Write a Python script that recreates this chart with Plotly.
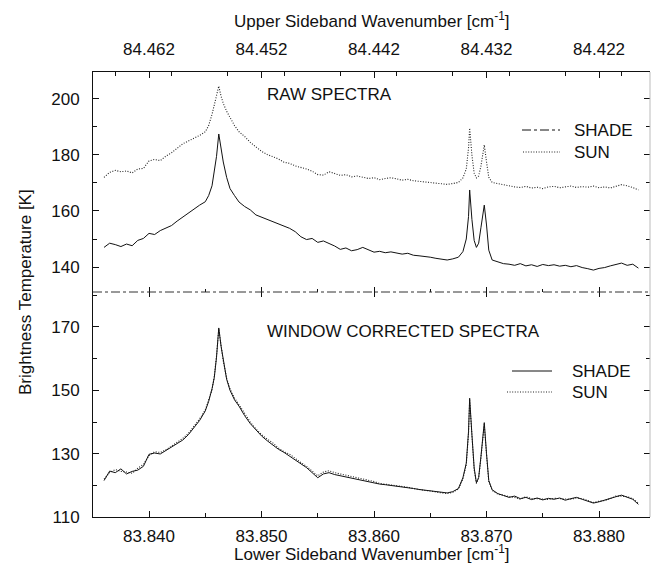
import plotly.graph_objects as go

# ---------------- data ----------------
# lower-sideband wavenumber sample positions [cm^-1]
wavenumber = (
    [83.8360, 83.8365, 83.8370, 83.8375, 83.8380, 83.8385, 83.8390, 83.8395, 83.8400,
     83.8405, 83.8410, 83.8415, 83.8420, 83.8425, 83.8430, 83.8435, 83.8440]
    + [83.8445, 83.8450, 83.8453, 83.8456, 83.8458, 83.8460, 83.8462, 83.8464, 83.8466,
       83.8469, 83.8472, 83.8476, 83.8480, 83.8485, 83.8490]
    + [83.8495, 83.8500, 83.8505, 83.8510, 83.8515, 83.8520, 83.8525, 83.8530, 83.8535,
       83.8540, 83.8545, 83.8550, 83.8555, 83.8560, 83.8565, 83.8570, 83.8575, 83.8580,
       83.8585, 83.8590, 83.8595, 83.8600, 83.8605, 83.8610, 83.8615, 83.8620, 83.8625,
       83.8630, 83.8635, 83.8640, 83.8645, 83.8650, 83.8655, 83.8660, 83.8665, 83.8670,
       83.8675]
    + [83.8679, 83.8682, 83.8684, 83.8685, 83.8687, 83.8689, 83.8691, 83.8693, 83.8695,
       83.8697, 83.8698, 83.8700, 83.8702, 83.8705]
    + [83.8710, 83.8715, 83.8720, 83.8725, 83.8730, 83.8735, 83.8740, 83.8745, 83.8750,
       83.8755, 83.8760, 83.8765, 83.8770, 83.8775, 83.8780, 83.8785, 83.8790, 83.8795,
       83.8800, 83.8805, 83.8810, 83.8815, 83.8820, 83.8825, 83.8830, 83.8835]
)

raw_sun = (
    [172.0, 173.8, 174.5, 174.0, 174.3, 173.6, 175.0, 175.2, 177.9, 178.4, 178.0, 179.6,
     180.8, 182.5, 184.0, 185.0, 186.0]
    + [187.0, 188.3, 190.5, 194.5, 197.8, 201.5, 204.6, 201.0, 198.4, 195.6, 193.5, 190.5,
       188.3, 186.6, 184.5]
    + [183.0, 181.3, 180.2, 179.4, 178.6, 177.4, 177.0, 176.1, 175.6, 175.0, 174.2, 173.0,
       172.8, 174.0, 173.4, 172.7, 173.0, 172.2, 172.5, 172.0, 171.6, 171.9, 171.2, 171.6,
       171.9, 171.5, 171.0, 171.3, 170.8, 170.6, 170.4, 170.2, 169.8, 169.7, 169.5, 169.8,
       170.2]
    + [171.8, 175.0, 182.5, 189.6, 180.0, 173.5, 171.8, 172.5, 176.0, 181.5, 183.6, 177.5,
       172.0, 170.2]
    + [169.8, 169.3, 169.0, 168.6, 168.4, 168.8, 168.2, 168.5, 168.0, 168.6, 168.8, 168.3,
       168.6, 168.9, 168.4, 168.7, 168.5, 168.9, 168.3, 168.6, 168.2, 168.8, 169.4, 169.0,
       168.4, 167.5]
)

raw_shade = (
    [147.0, 148.5, 148.0, 147.3, 148.2, 147.6, 149.5, 150.2, 152.0, 151.6, 153.0, 154.0,
     154.8, 156.4, 157.9, 159.4, 160.8]
    + [162.1, 163.3, 165.5, 169.0, 174.0, 179.5, 187.5, 182.0, 177.5, 172.0, 168.0, 165.5,
       163.2, 161.6, 160.4]
    + [158.6, 157.8, 156.8, 156.0, 155.4, 154.6, 153.8, 152.6, 150.8, 149.8, 150.2, 148.8,
       149.3, 148.4, 147.5, 146.3, 146.8, 145.8, 146.2, 147.0, 146.0, 145.3, 145.6, 145.1,
       145.4, 144.9, 144.6, 144.9, 144.2, 144.0, 143.8, 143.5, 143.1, 142.8, 142.5, 142.9,
       143.5]
    + [145.5, 150.0, 158.0, 167.5, 157.0, 149.5, 147.0, 148.5, 154.0, 160.0, 162.1, 155.0,
       146.0, 142.5]
    + [141.8, 141.2, 141.0, 140.6, 141.2, 140.4, 140.8, 140.2, 140.9, 140.5, 140.8, 140.3,
       140.6, 140.1, 140.5, 139.8, 139.4, 138.9, 139.5, 139.8, 140.4, 140.9, 141.4, 140.6,
       141.0, 139.6]
)

corr_shade = (
    [121.5, 124.5, 124.0, 125.2, 123.6, 124.4, 124.8, 126.0, 129.8, 130.2, 129.9, 131.0,
     132.0, 133.2, 134.3, 136.0, 138.4]
    + [140.5, 143.5, 146.5, 150.5, 154.0, 160.5, 169.7, 164.0, 159.5, 153.5, 150.0, 147.0,
       145.0, 142.0, 139.5]
    + [137.4, 135.6, 134.1, 132.8, 131.4, 130.4, 129.2, 127.8, 126.6, 125.6, 124.0, 122.4,
       123.6, 124.0, 123.4, 123.0, 122.6, 122.2, 121.8, 121.4, 121.0, 120.8, 120.4, 120.2,
       120.0, 119.8, 119.5, 119.2, 119.0, 118.7, 118.5, 118.3, 118.0, 117.8, 117.6, 118.0,
       119.0]
    + [122.4, 127.0, 137.0, 147.5, 136.0, 125.5, 120.8, 122.5, 129.0, 136.5, 139.8, 130.0,
       121.5, 118.6]
    + [117.4, 116.8, 116.2, 116.6, 115.8, 116.2, 115.5, 116.0, 115.4, 115.9, 115.6, 116.0,
       115.3, 115.8, 116.2, 115.6, 115.0, 114.4, 114.8, 115.4, 116.0, 116.4, 116.9, 116.2,
       115.6, 114.0]
)

corr_sun = (
    [122.0, 124.0, 125.0, 124.4, 124.2, 123.8, 125.4, 126.6, 129.4, 130.6, 130.4, 131.2,
     132.4, 133.6, 134.8, 136.4, 138.8]
    + [141.0, 143.8, 146.8, 150.2, 154.4, 160.8, 169.4, 164.4, 159.2, 153.8, 150.4, 147.6,
       145.4, 142.6, 140.0]
    + [137.8, 136.0, 134.6, 133.4, 131.8, 130.6, 129.8, 128.4, 127.2, 126.0, 124.6, 123.0,
       124.2, 124.6, 124.0, 123.6, 123.2, 122.8, 122.6, 122.2, 121.6, 121.2, 120.6, 120.4,
       120.2, 120.0, 119.6, 119.4, 119.0, 118.6, 118.4, 118.2, 117.8, 117.6, 117.4, 117.8,
       118.8]
    + [122.0, 126.5, 136.4, 146.8, 135.4, 125.0, 120.6, 122.2, 128.6, 136.0, 139.2, 129.6,
       121.2, 118.4]
    + [117.2, 116.9, 116.4, 116.2, 115.6, 116.4, 115.8, 115.8, 115.6, 115.5, 115.9, 115.8,
       115.5, 115.6, 116.0, 115.8, 115.2, 114.6, 115.0, 115.2, 115.8, 116.6, 116.6, 116.4,
       115.8, 114.4]
)

series_names = ["SHADE", "SUN"]
panel_titles = ["RAW SPECTRA", "WINDOW CORRECTED SPECTRA"]
LO_PLUS_USB = 168.302   # upper sideband wavenumber = 168.302 - lower sideband wavenumber

# ---------------- styling / layout ----------------
W, H = 655, 563
ML, MR, MT, MB = 93, 5, 72, 46
PW, PH = W - ML - MR, H - MT - MB
FONT = "Liberation Sans, Arial, Helvetica, sans-serif"
INK = "#111111"
FS = 17

def px_x(p):
    return (p - ML) / PW

def px_y(p):
    return (H - MB - p) / PH

split = px_y(292)
lo_range = [83.83502, 83.88453]
up_range = [LO_PLUS_USB - lo_range[0], LO_PLUS_USB - lo_range[1]]
raw_range = [131.07, 209.64]
cor_range = [110.0, 181.05]

fig = go.Figure()
line_solid = dict(color=INK, width=1)
line_dot = dict(color="#222222", width=1.1, dash="1px,1.6px")
ghost = dict(mode="lines", line=dict(width=0, color="rgba(0,0,0,0)"),
             hoverinfo="skip", showlegend=False)

fig.add_trace(go.Scatter(x=wavenumber, y=raw_shade, mode="lines", line=line_solid,
                         xaxis="x", yaxis="y", name=series_names[0], showlegend=False))
fig.add_trace(go.Scatter(x=wavenumber, y=raw_sun, mode="lines", line=line_dot,
                         xaxis="x", yaxis="y", name=series_names[1], showlegend=False))
fig.add_trace(go.Scatter(x=wavenumber, y=corr_sun, mode="lines", line=line_dot,
                         xaxis="x", yaxis="y2", name=series_names[1], showlegend=False))
fig.add_trace(go.Scatter(x=wavenumber, y=corr_shade, mode="lines", line=line_solid,
                         xaxis="x", yaxis="y2", name=series_names[0], showlegend=False))

# invisible copies so that the auxiliary axes (top scale, divider ticks, right ticks) get drawn
usb = [LO_PLUS_USB - w for w in wavenumber]
fig.add_trace(go.Scatter(x=usb, y=raw_shade, xaxis="x3", yaxis="y", **ghost))
fig.add_trace(go.Scatter(x=wavenumber, y=raw_shade, xaxis="x2", yaxis="y", **ghost))
fig.add_trace(go.Scatter(x=wavenumber, y=corr_shade, xaxis="x4", yaxis="y2", **ghost))
fig.add_trace(go.Scatter(x=wavenumber, y=raw_shade, xaxis="x", yaxis="y3", **ghost))
fig.add_trace(go.Scatter(x=wavenumber, y=corr_shade, xaxis="x", yaxis="y4", **ghost))

tickfont = dict(family=FONT, size=FS, color=INK)
common = dict(showgrid=False, zeroline=False, linecolor=INK, linewidth=1,
              tickcolor=INK, tickfont=tickfont, ticks="inside", automargin=False)

fig.update_layout(
    width=W, height=H,
    margin=dict(l=ML, r=MR, t=MT, b=MB, pad=0),
    paper_bgcolor="white", plot_bgcolor="white",
    font=dict(family=FONT, size=FS, color=INK),
    showlegend=False,
    xaxis=dict(domain=[0, 1], range=lo_range, anchor="y2", side="bottom", showline=True,
               tick0=83.84, dtick=0.01, tickformat=".3f", ticklen=6,
               minor=dict(dtick=0.005, ticks="inside", ticklen=4, tickcolor=INK),
               ticklabelstandoff=4, **common),
    xaxis2=dict(overlaying="x", range=lo_range, anchor="y", side="bottom", showline=False,
                tick0=83.84, dtick=0.01, ticklen=5, showticklabels=False,
                minor=dict(dtick=0.005, ticks="inside", ticklen=3, tickcolor=INK), **common),
    xaxis4=dict(overlaying="x", range=lo_range, anchor="y2", side="top", showline=False,
                tick0=83.84, dtick=0.01, ticklen=5, showticklabels=False, **common),
    xaxis3=dict(overlaying="x", range=up_range, anchor="y", side="top", showline=True,
                tick0=84.422, dtick=0.01, tickformat=".3f", ticklen=6,
                minor=dict(dtick=0.005, ticks="inside", ticklen=4, tickcolor=INK),
                ticklabelstandoff=9, **common),
    yaxis=dict(domain=[split, 1], range=raw_range, anchor="x", showline=True,
               tick0=140, dtick=20, ticklen=6,
               minor=dict(dtick=10, ticks="inside", ticklen=4, tickcolor=INK),
               ticklabelstandoff=9, **common),
    yaxis2=dict(domain=[0, split], range=cor_range, anchor="x", showline=True,
                tick0=110, dtick=20, ticklen=6,
                minor=dict(dtick=10, ticks="inside", ticklen=4, tickcolor=INK),
                ticklabelstandoff=9, **common),
    yaxis3=dict(overlaying="y", range=raw_range, anchor="x", side="right", showline=False,
                tick0=140, dtick=20, ticklen=6, showticklabels=False,
                minor=dict(dtick=10, ticks="inside", ticklen=4, tickcolor=INK), **common),
    yaxis4=dict(overlaying="y2", range=cor_range, anchor="x", side="right", showline=False,
                tick0=110, dtick=20, ticklen=6, showticklabels=False,
                minor=dict(dtick=10, ticks="inside", ticklen=4, tickcolor=INK), **common),
)

shapes = [
    # panel divider
    dict(type="line", xref="paper", yref="paper", x0=0, x1=1, y0=split, y1=split,
         line=dict(color="#333333", width=1, dash="dashdot")),
    # faint right border
    dict(type="line", xref="paper", yref="paper", x0=1, x1=1, y0=0, y1=1,
         line=dict(color="#bbbbbb", width=1)),
    # legend samples, raw panel
    dict(type="line", xref="paper", yref="paper", x0=px_x(522), x1=px_x(560),
         y0=px_y(130), y1=px_y(130), line=dict(color=INK, width=1, dash="dashdot")),
    dict(type="line", xref="paper", yref="paper", x0=px_x(523), x1=px_x(560),
         y0=px_y(152), y1=px_y(152), line=line_dot),
    # legend samples, corrected panel
    dict(type="line", xref="paper", yref="paper", x0=px_x(512), x1=px_x(552),
         y0=px_y(371), y1=px_y(371), line=line_solid),
    dict(type="line", xref="paper", yref="paper", x0=px_x(507), x1=px_x(552),
         y0=px_y(392), y1=px_y(392), line=line_dot),
]

def txt(text, xp, yp, xanchor="left", angle=0, size=FS):
    return dict(text=text, xref="paper", yref="paper", x=xp, y=yp, xanchor=xanchor,
                yanchor="middle", showarrow=False, textangle=angle,
                font=dict(family=FONT, size=size, color=INK))

annotations = [
    txt(panel_titles[0], px_x(265), px_y(95)),
    txt(panel_titles[1], px_x(265), px_y(331)),
    txt(series_names[0], px_x(572), px_y(130)),
    txt(series_names[1], px_x(572), px_y(152)),
    txt(series_names[0], px_x(570), px_y(371)),
    txt(series_names[1], px_x(570), px_y(392)),
    txt("Upper Sideband Wavenumber [cm<sup>-1</sup>]", 0.5, px_y(20), xanchor="center"),
    txt("Lower Sideband Wavenumber [cm<sup>-1</sup>]", 0.5, px_y(553), xanchor="center"),
    txt("Brightness Temperature [K]", px_x(25), px_y(292), xanchor="center", angle=-90),
]

fig.update_layout(shapes=shapes, annotations=annotations)
fig.write_html("out.html",
               config={"displayModeBar": False},
               post_script="document.body.style.margin='0';document.body.style.padding='0';")
